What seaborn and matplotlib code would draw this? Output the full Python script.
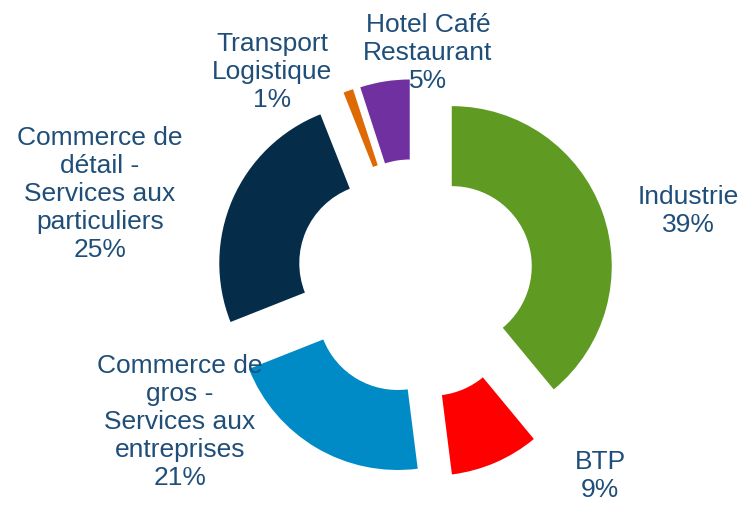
import matplotlib
matplotlib.use("Agg")
import matplotlib.pyplot as plt
import seaborn as sns

# data
secteurs = ["Industrie", "BTP", "Commerce de\ngros -\nServices aux\nentreprises",
            "Commerce de\ndétail -\nServices aux\nparticuliers",
            "Transport\nLogistique", "Hotel Café\nRestaurant"]
parts = [39, 9, 21, 25, 1, 5]
couleurs = ["#5F9B22", "#FF0000", "#008BC6", "#052C49", "#DD6A05", "#7030A0"]

sns.set_theme(style="white")
plt.rcParams["font.family"] = ["Liberation Sans", "DejaVu Sans"]

fig = plt.figure(figsize=(7.43, 5.05), dpi=100)
ax = fig.add_axes([0, 0, 1, 1])

# donut, slices pulled apart
R = 160
ax.pie(parts, colors=couleurs, startangle=90, counterclock=False,
       center=(416, 226), radius=R, explode=[38, 40, 36, 40, 40, 40],
       wedgeprops=dict(width=0.5 * R, linewidth=0))

ax.set_xlim(0, 743)
ax.set_ylim(0, 505)
ax.set_aspect("equal")
ax.axis("off")

# label positions (pixels from top-left)
pos_labels = [(688, 211), (600, 476), (180, 422), (100, 194), (272, 72), (428, 53)]
for nom, p, (x, y) in zip(secteurs, parts, pos_labels):
    ax.text(x, 505 - y, f"{nom}\n{p}%", ha="center", va="center",
            fontsize=19, color="#1F4E79", linespacing=1.2)

fig.savefig("out.png", dpi=100)
